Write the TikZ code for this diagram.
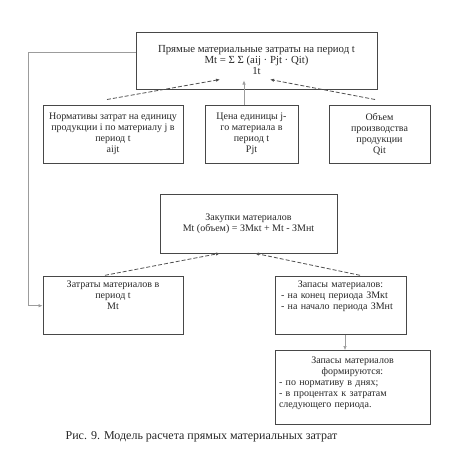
\documentclass[tikz,border=0pt]{standalone}
\usepackage{fontspec}
\setmainfont{Liberation Serif}
\usepackage{tikz}
\usetikzlibrary{positioning, arrows.meta}
\definecolor{boxline}{HTML}{474747}
\definecolor{textgray}{HTML}{262626}
\definecolor{dashgray}{HTML}{505050}
\definecolor{thingray}{HTML}{9C9C9C}

\begin{document}
\begin{tikzpicture}[x=1pt, y=-1pt,
    >={Latex[length=4pt, width=3.4pt]},
    box/.style={rectangle, draw=boxline, line width=0.8pt, align=center,
                inner sep=3pt, text=textgray, font=\fontsize{10}{11}\selectfont},
    link/.style={->, dash pattern=on 4pt off 2pt, line width=0.8pt, dashgray},
    feed/.style={->, line width=0.6pt, thingray}
  ]
  \useasboundingbox (0,0) rectangle (461,469);

  % Top: direct material costs
  \node[box, line width=1pt, minimum width=241pt, minimum height=57pt,
        font=\fontsize{10.8}{11}\selectfont] (direct) at (256.5,60.5)
    {Прямые материальные затраты на период t\\Mt = Σ Σ (aij · Pjt · Qit)\\1t};

  % Row of inputs
  \node[box, minimum width=140pt, minimum height=58pt] (norm) [below=15pt of direct, xshift=-143.5pt]
    {Нормативы затрат на единицу\\продукции i по материалу j в\\период t\\aijt};
  \node[box, minimum width=93pt, minimum height=58pt] (price) [below=15pt of direct, xshift=-5pt]
    {Цена единицы j-\\го материала в\\период t\\Pjt};
  \node[box, minimum width=101pt, minimum height=58pt] (volume) [below=15pt of direct, xshift=123pt]
    {Объем\\производства\\продукции\\Qit};

  % Purchases
  \node[box, minimum width=177pt, minimum height=59pt] (purchase) [below=104pt of direct, xshift=-8pt]
    {Закупки материалов\\Mt (объем) = ЗМкt + Mt - ЗМнt};

  % Lower row
  \node[box, minimum width=140pt, minimum height=58pt] (cost) [below=23pt of purchase, xshift=-135.5pt]
    {Затраты материалов в\\период t\\Mt\\[9.5pt]\mbox{}};
  \node[box, text width=119pt, inner xsep=6pt, align=left, minimum height=58pt] (stock) [below=23pt of purchase, xshift=92pt]
    {{\centering Запасы материалов:\par}- на конец периода ЗМкt\\- на начало периода ЗМнt\\[9.5pt]\mbox{}};
  \node[box, text width=147pt, inner xsep=4pt, align=left, minimum height=74pt] (forming) [below=15pt of stock, xshift=12pt]
    {{\centering Запасы материалов\\формируются:\par}- по нормативу в днях;\\- в процентах к затратам\\следующего периода.\\\mbox{}};

  % Caption
  \node[text=textgray, font=\fontsize{12}{14}\selectfont] (caption) at (201.5,437)
    {Рис. 9. Модель расчета прямых материальных затрат};

  % Connections
  \draw[link] ([xshift=-6pt, yshift=5pt]norm.north) -- ([xshift=-36.5pt, yshift=10pt]direct.south);
  \draw[feed] ([xshift=-7.5pt]price.north) -- ([xshift=-12.5pt, yshift=9pt]direct.south);
  \draw[link] ([xshift=-4.5pt, yshift=5pt]volume.north) -- ([xshift=13.5pt, yshift=10pt]direct.south);
  \draw[link] ([xshift=-8pt, yshift=1pt]cost.north) -- ([xshift=-28.5pt]purchase.south);
  \draw[link] ([xshift=19.5pt, yshift=1pt]stock.north) -- ([xshift=6.5pt]purchase.south);
  \draw[feed] ([xshift=4.5pt]stock.south) -- ([xshift=4.5pt]stock.south |- forming.north);

  % Feedback loop on the left
  \coordinate (loop) at (28,52);
  \draw[feed] ([yshift=8.5pt]direct.west) -- (loop) |- (cost.west);
\end{tikzpicture}
\end{document}
